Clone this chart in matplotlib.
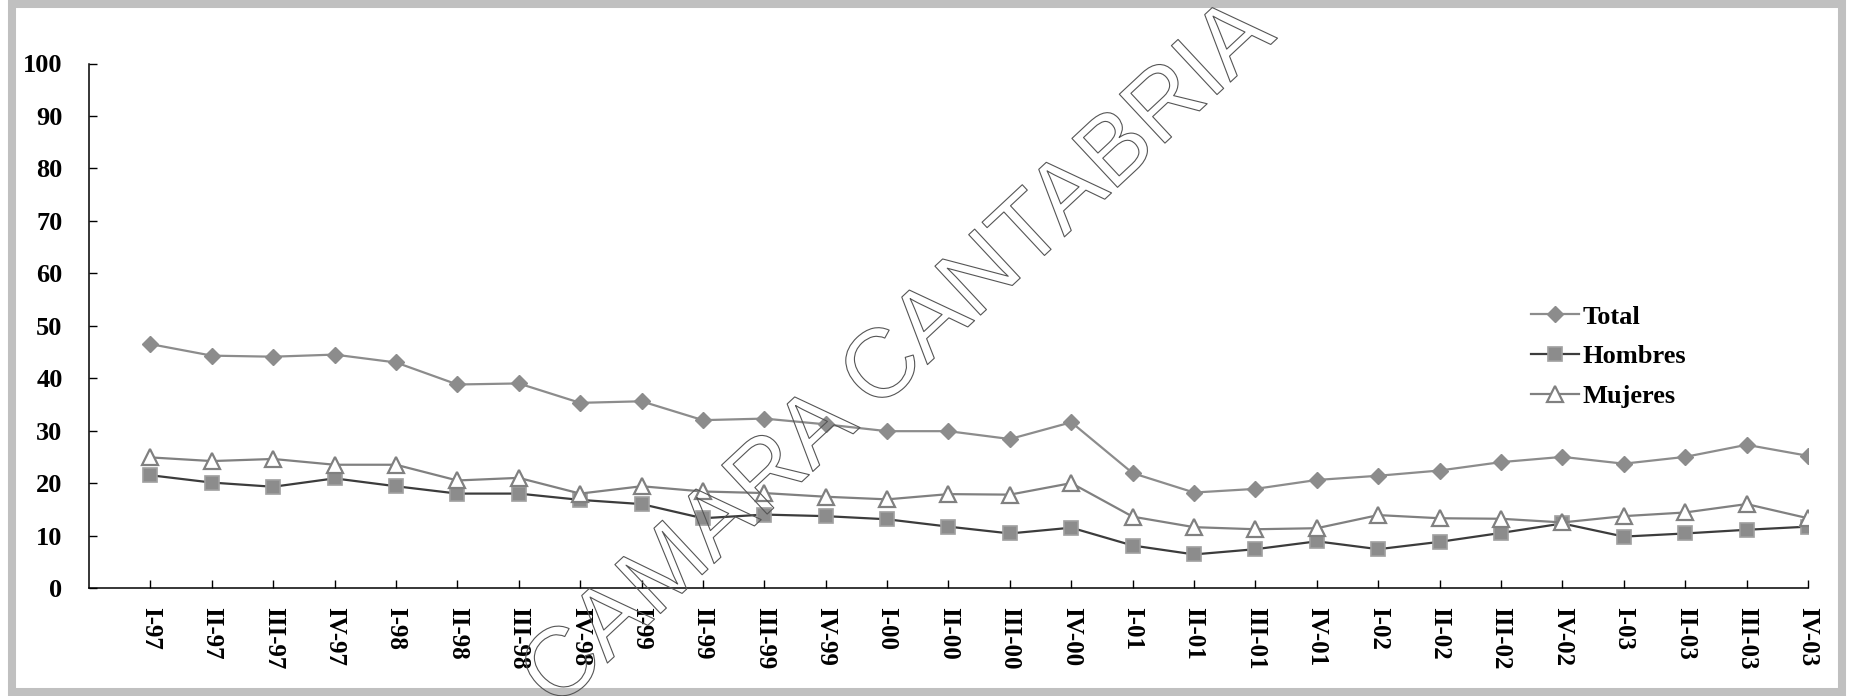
import matplotlib
matplotlib.use('Agg')
import matplotlib.pyplot as plt
import matplotlib.patheffects as pe
from matplotlib.patches import Rectangle

trimestres = ['I-97', 'II-97', 'III-97', 'IV-97', 'I-98', 'II-98', 'III-98', 'IV-98',
              'I-99', 'II-99', 'III-99', 'IV-99', 'I-00', 'II-00', 'III-00', 'IV-00',
              'I-01', 'II-01', 'III-01', 'IV-01', 'I-02', 'II-02', 'III-02', 'IV-02',
              'I-03', 'II-03', 'III-03', 'IV-03']
total = [46.5, 44.3, 44.1, 44.5, 43.0, 38.8, 39.0, 35.3, 35.6, 32.0, 32.3, 31.2, 29.9, 29.9,
         28.4, 31.6, 21.9, 18.2, 18.9, 20.6, 21.4, 22.4, 24.0, 25.0, 23.7, 25.0, 27.3, 25.2]
hombres = [21.5, 20.1, 19.3, 20.9, 19.4, 18.0, 18.0, 16.8, 16.0, 13.3, 14.0, 13.7, 13.1, 11.7,
           10.4, 11.5, 8.1, 6.4, 7.4, 8.9, 7.4, 8.8, 10.5, 12.3, 9.8, 10.4, 11.1, 11.7]
mujeres = [24.9, 24.2, 24.6, 23.5, 23.5, 20.5, 21.0, 18.0, 19.4, 18.4, 18.1, 17.4, 16.9, 17.9,
           17.8, 20.0, 13.6, 11.6, 11.2, 11.4, 13.9, 13.3, 13.2, 12.5, 13.7, 14.4, 16.0, 13.3]

fuente = {'family': 'Liberation Serif', 'weight': 'bold', 'size': 19}
plt.rcParams['font.family'] = 'Liberation Serif'
plt.rcParams['font.weight'] = 'bold'

W, H = 1850, 696
fig = plt.figure(figsize=(W / 100, H / 100), dpi=100)
ax = fig.add_axes([89 / W, 1 - 588 / H, (1808 - 89) / W, (588 - 63.5) / H])

x = list(range(len(trimestres)))
ax.plot(x, total, color='#8c8c8c', lw=1.6, marker='D', ms=8,
        mfc='#8c8c8c', mec='#8c8c8c', label='Total')
ax.plot(x, hombres, color='#3c3c3c', lw=1.6, marker='s', ms=10,
        mfc='#8c8c8c', mec='#a0a0a0', mew=1.2, label='Hombres')
ax.plot(x, mujeres, color='#808080', lw=1.6, marker='^', ms=11,
        mfc='white', mec='#808080', mew=1.6, label='Mujeres')

ax.set_xlim(-1, len(trimestres) - 1)
ax.set_ylim(0, 100)
ax.set_yticks(range(0, 101, 10))
ax.set_xticks(x)
ax.set_xticklabels(trimestres, rotation=270)
ax.tick_params(axis='y', direction='in', length=6, width=1, pad=19, labelsize=19)
ax.tick_params(axis='x', direction='in', length=6, width=1, pad=14, labelsize=18)
for s in ['top', 'right']:
    ax.spines[s].set_visible(False)
for s in ['left', 'bottom']:
    ax.spines[s].set_linewidth(1.1)

leg = ax.legend(loc='upper left', bbox_to_anchor=(1518 / W, 1 - 292 / H),
                bbox_transform=fig.transFigure, frameon=False, borderpad=0,
                handlelength=1.8, handletextpad=0.15, labelspacing=0.62,
                prop=fuente)

# marco gris
fig.patches.append(Rectangle((12 / W, 4 / H), (1842 - 12) / W, (692 - 4) / H,
                             transform=fig.transFigure, fill=False,
                             edgecolor='#c0c0c0', lw=5.8))

# marca de agua
fig.text(900 / W, 1 - 356 / H, 'CAMARA CANTABRIA', family='Liberation Sans',
         fontsize=70, fontweight='normal', rotation=43, ha='center', va='center',
         color='none', zorder=10,
         path_effects=[pe.Stroke(linewidth=0.8, foreground='#555555')])

fig.savefig('out.png', dpi=100)
